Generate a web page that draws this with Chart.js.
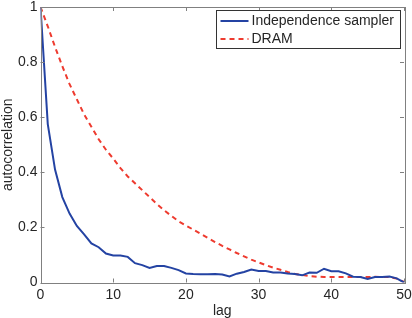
<!DOCTYPE html>
<html>
<head>
<meta charset="utf-8">
<script src="https://cdn.jsdelivr.net/npm/chart.js@4"></script>
<style>
  html, body { margin: 0; padding: 0; background: #fff; }
  #wrap { width: 412px; height: 318px; position: relative; }
</style>
</head>
<body>
<div id="wrap"><canvas id="c"></canvas></div>
<script>
// lags 0..50
const lags = Array.from({ length: 51 }, (_, i) => i);

const independenceSampler = [
  1.0, 0.575, 0.41, 0.31, 0.25, 0.205, 0.175, 0.142, 0.128, 0.105,
  0.098, 0.098, 0.093, 0.07, 0.063, 0.053, 0.06, 0.06, 0.053, 0.045,
  0.033, 0.031, 0.03, 0.03, 0.031, 0.029, 0.022, 0.032, 0.038, 0.047,
  0.042, 0.042, 0.036, 0.036, 0.033, 0.031, 0.026, 0.036, 0.035, 0.05,
  0.041, 0.041, 0.033, 0.021, 0.02, 0.013, 0.02, 0.02, 0.022, 0.015,
  0.0
];

const dram = [
  1.0, 0.93, 0.855, 0.785, 0.72, 0.665, 0.61, 0.565, 0.52, 0.482,
  0.45, 0.415, 0.385, 0.36, 0.335, 0.31, 0.285, 0.262, 0.242, 0.222,
  0.207, 0.192, 0.177, 0.162, 0.147, 0.133, 0.12, 0.107, 0.095, 0.083,
  0.073, 0.063, 0.054, 0.046, 0.038, 0.031, 0.027, 0.023, 0.021, 0.02,
  0.02, 0.02, 0.02, 0.02, 0.02, 0.02, 0.021, 0.02, 0.02, 0.014,
  0.002
];

const xTicks = [0, 10, 20, 30, 40, 50];
const yTicks = [0, 0.2, 0.4, 0.6, 0.8, 1];

const FONT = 'Liberation Sans, Arial, Helvetica, sans-serif';
const TEXT = '#262626';
const FRAME = '#808080';

// MATLAB style box: frame on all sides, ticks pointing inwards, legend top right
const boxPlugin = {
  id: 'box',
  afterDatasetsDraw(chart) {
    const { ctx, chartArea: a, scales: { x, y } } = chart;
    ctx.save();
    ctx.strokeStyle = FRAME;
    ctx.lineWidth = 1;
    const L = 4;
    ctx.beginPath();
    xTicks.forEach(v => {
      const px = Math.round(x.getPixelForValue(v)) + 0.5;
      ctx.moveTo(px, a.bottom); ctx.lineTo(px, a.bottom - L);
      ctx.moveTo(px, a.top); ctx.lineTo(px, a.top + L);
    });
    yTicks.forEach(v => {
      const py = Math.round(y.getPixelForValue(v)) + 0.5;
      ctx.moveTo(a.left, py); ctx.lineTo(a.left + L, py);
      ctx.moveTo(a.right, py); ctx.lineTo(a.right - L, py);
    });
    ctx.stroke();
    ctx.strokeRect(Math.round(a.left) + 0.5, Math.round(a.top) + 0.5,
      Math.round(a.right - a.left), Math.round(a.bottom - a.top));

    const bx = 216.5, by = 10.5, bw = 184, bh = 38;
    ctx.fillStyle = '#fff';
    ctx.fillRect(bx, by, bw, bh);
    ctx.strokeStyle = '#333';
    ctx.strokeRect(bx, by, bw, bh);
    ctx.font = '14px ' + FONT;
    ctx.textBaseline = 'middle';
    ctx.fillStyle = TEXT;
    chart.data.datasets.forEach((ds, i) => {
      const ly = by + 10.5 + i * 18;
      ctx.strokeStyle = ds.borderColor;
      ctx.lineWidth = 2;
      ctx.setLineDash(ds.borderDash || []);
      ctx.beginPath();
      ctx.moveTo(bx + 4, ly); ctx.lineTo(bx + 32, ly);
      ctx.stroke();
      ctx.setLineDash([]);
      ctx.fillText(ds.label, bx + 35, ly);
    });
    ctx.restore();
  }
};

new Chart(document.getElementById('c'), {
  type: 'line',
  plugins: [boxPlugin],
  data: {
    datasets: [
      {
        label: 'Independence sampler',
        data: lags.map((l, i) => ({ x: l, y: independenceSampler[i] })),
        borderColor: '#2443a3',
        borderWidth: 2,
        pointRadius: 0,
        tension: 0,
        fill: false
      },
      {
        label: 'DRAM',
        data: lags.map((l, i) => ({ x: l, y: dram[i] })),
        borderColor: '#ee3b2f',
        borderWidth: 2,
        borderDash: [5, 4],
        pointRadius: 0,
        tension: 0,
        fill: false
      }
    ]
  },
  options: {
    responsive: true,
    maintainAspectRatio: false,
    animation: false,
    layout: { padding: 0 },
    plugins: { legend: { display: false }, tooltip: { enabled: false } },
    scales: {
      x: {
        type: 'linear',
        min: 0, max: 50,
        afterBuildTicks: s => { s.ticks = xTicks.map(v => ({ value: v })); },
        afterFit: s => { s.height = 35.5; s.paddingLeft = 0; s.paddingRight = 8; },
        grid: { display: false, drawTicks: false },
        border: { display: false },
        ticks: { color: TEXT, font: { family: FONT, size: 14 }, padding: 4, maxRotation: 0 },
        title: { display: true, text: 'lag', color: TEXT, font: { family: FONT, size: 14 }, padding: { top: 0, bottom: -2 } }
      },
      y: {
        min: 0, max: 1,
        afterBuildTicks: s => { s.ticks = yTicks.map(v => ({ value: v })); },
        afterFit: s => { s.width = 40.5; s.paddingTop = 7; s.paddingBottom = 0; },
        grid: { display: false, drawTicks: false },
        border: { display: false },
        ticks: { color: TEXT, font: { family: FONT, size: 14 }, padding: 3, callback: v => String(v) },
        title: { display: true, text: 'autocorrelation', color: TEXT, font: { family: FONT, size: 14 }, padding: 0 }
      }
    }
  }
});
</script>
</body>
</html>
